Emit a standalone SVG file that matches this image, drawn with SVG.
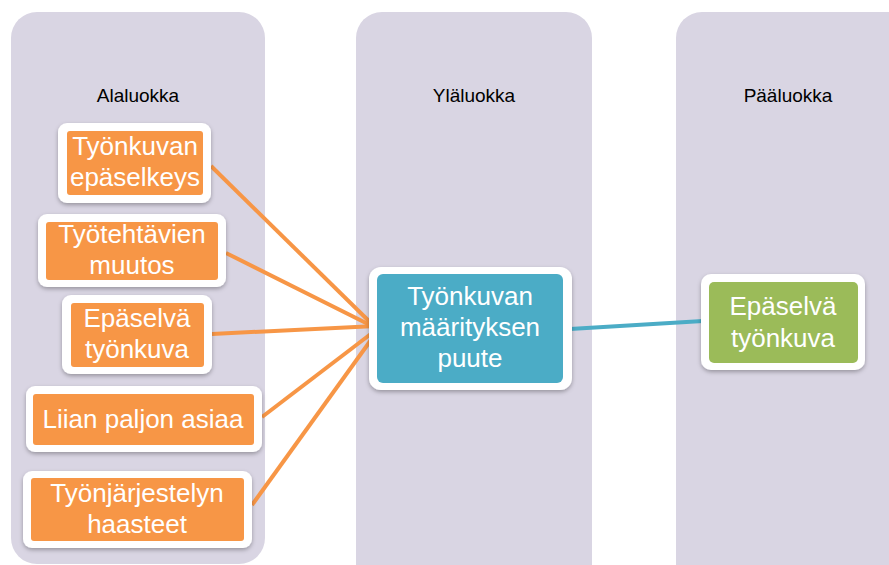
<svg xmlns="http://www.w3.org/2000/svg" width="889" height="565" viewBox="0 0 889 565">
  <defs>
    <style>
      .col { fill: #d9d5e3; }
      .head { font-family: "Liberation Sans", Arial, sans-serif; font-size: 19px; fill: #000; text-anchor: middle; }
      .frame { fill: #ffffff; filter: url(#shadow); }
      .lbl { font-family: "Liberation Sans", Arial, sans-serif; font-size: 26px; fill: #ffffff; text-anchor: middle; }
      .orange { fill: #f79646; }
      .teal { fill: #4bacc6; }
      .green { fill: #9bbb59; }
      .link-o { stroke: #f79646; stroke-width: 4; fill: none; }
      .link-t { stroke: #4bacc6; stroke-width: 4; fill: none; }
    </style>
    <filter id="shadow" x="-10%" y="-10%" width="120%" height="130%">
      <feDropShadow dx="0" dy="2" stdDeviation="2" flood-color="#000" flood-opacity="0.3"/>
    </filter>
  </defs>

  <rect width="889" height="565" fill="#ffffff"/>

  <!-- category columns -->
  <g id="col-alaluokka">
    <rect class="col" x="11" y="12" width="254" height="552" rx="26"/>
    <text class="head" x="138" y="102">Alaluokka</text>
  </g>
  <g id="col-ylaluokka">
    <rect class="col" x="356" y="12" width="236" height="580" rx="26"/>
    <text class="head" x="474" y="102">Yläluokka</text>
  </g>
  <g id="col-paaluokka">
    <rect class="col" x="676" y="12" width="240" height="580" rx="26"/>
    <text class="head" x="788" y="102">Pääluokka</text>
  </g>

  <!-- connectors -->
  <g id="connectors">
    <line class="link-o" x1="211" y1="166" x2="376" y2="328"/>
    <line class="link-o" x1="226" y1="253" x2="376" y2="328"/>
    <line class="link-o" x1="212" y1="334" x2="376" y2="326"/>
    <line class="link-o" x1="262" y1="417" x2="376" y2="330"/>
    <line class="link-o" x1="252" y1="505" x2="376" y2="333"/>
    <line class="link-t" x1="570" y1="329" x2="703" y2="321"/>
  </g>

  <!-- subcategory nodes -->
  <g id="node-tyonkuvan-epaselkeys">
    <rect class="frame" x="58" y="123" width="153" height="80" rx="9"/>
    <rect class="orange" x="67" y="131" width="136" height="64" rx="3"/>
    <text class="lbl" x="135" y="155">Työnkuvan</text>
    <text class="lbl" x="135" y="186">epäselkeys</text>
  </g>
  <g id="node-tyotehtavien-muutos">
    <rect class="frame" x="38" y="214" width="188" height="73" rx="9"/>
    <rect class="orange" x="46" y="222" width="172" height="58" rx="3"/>
    <text class="lbl" x="132" y="243">Työtehtävien</text>
    <text class="lbl" x="132" y="274">muutos</text>
  </g>
  <g id="node-epaselva-tyonkuva-sub">
    <rect class="frame" x="62" y="295" width="150" height="79" rx="9"/>
    <rect class="orange" x="71" y="303" width="133" height="64" rx="3"/>
    <text class="lbl" x="137" y="327">Epäselvä</text>
    <text class="lbl" x="137" y="358">työnkuva</text>
  </g>
  <g id="node-liian-paljon-asiaa">
    <rect class="frame" x="26" y="386" width="236" height="66" rx="9"/>
    <rect class="orange" x="33" y="394" width="221" height="51" rx="3"/>
    <text class="lbl" x="143" y="428">Liian paljon asiaa</text>
  </g>
  <g id="node-tyonjarjestelyn-haasteet">
    <rect class="frame" x="23" y="471" width="229" height="77" rx="9"/>
    <rect class="orange" x="31" y="478" width="213" height="63" rx="3"/>
    <text class="lbl" x="137" y="502">Työnjärjestelyn</text>
    <text class="lbl" x="137" y="533">haasteet</text>
  </g>

  <!-- upper category node -->
  <g id="node-tyonkuvan-maarityksen-puute">
    <rect class="frame" x="369" y="267" width="203" height="123" rx="12"/>
    <rect class="teal" x="377" y="274" width="186" height="109" rx="6"/>
    <text class="lbl" x="470" y="305">Työnkuvan</text>
    <text class="lbl" x="470" y="336">määrityksen</text>
    <text class="lbl" x="470" y="367">puute</text>
  </g>

  <!-- main category node -->
  <g id="node-epaselva-tyonkuva-main">
    <rect class="frame" x="701" y="274" width="164" height="96" rx="10"/>
    <rect class="green" x="709" y="282" width="149" height="81" rx="5"/>
    <text class="lbl" x="783" y="315">Epäselvä</text>
    <text class="lbl" x="783" y="347">työnkuva</text>
  </g>
</svg>
